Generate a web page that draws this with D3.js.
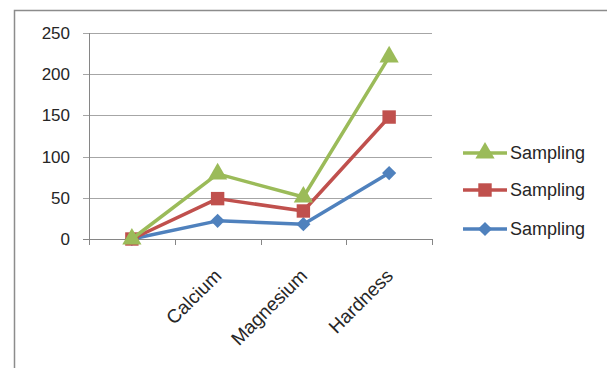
<!DOCTYPE html>
<html>
<head>
<meta charset="utf-8">
<script src="https://cdn.jsdelivr.net/npm/d3@7"></script>
<style>
  html, body { margin: 0; padding: 0; background: #fff; }
  svg { display: block; }
  text { font-family: "Liberation Sans", Arial, sans-serif; fill: #262626; }
</style>
</head>
<body>
<svg id="chart" width="607" height="368"></svg>
<script>
// Categories along the x axis (the first one carries no label)
const categories = ["", "Calcium", "Magnesium", "Hardness"];

// Series values, drawn bottom to top
const seriesBlue  = [0, 22, 18, 80];
const seriesRed   = [0, 49, 34, 148];
const seriesGreen = [0, 79, 51, 221];

const seriesNames = ["Sampling", "Sampling", "Sampling"];
const yTicks = [0, 50, 100, 150, 200, 250];

const series = [
  { name: seriesNames[2], values: seriesBlue,  color: "#4F81BD", symbol: "diamond" },
  { name: seriesNames[1], values: seriesRed,   color: "#C0504D", symbol: "square" },
  { name: seriesNames[0], values: seriesGreen, color: "#9BBB59", symbol: "triangle" }
];

const svg = d3.select("#chart");

// Outer chart frame
svg.append("rect")
  .attr("x", 14.5).attr("y", 10.5)
  .attr("width", 700).attr("height", 500)
  .attr("fill", "none").attr("stroke", "#8c8c8c").attr("stroke-width", 1.5);

const plot = { left: 89, right: 432, top: 33, bottom: 239 };

const x = d3.scaleBand().domain(categories.map((c, i) => i)).range([plot.left, plot.right]);
const y = d3.scaleLinear().domain([0, 250]).range([plot.bottom, plot.top]);

// Horizontal gridlines
svg.append("g").selectAll("line").data(yTicks).join("line")
  .attr("x1", plot.left - 6).attr("x2", plot.right)
  .attr("y1", d => Math.round(y(d)) + 0.5).attr("y2", d => Math.round(y(d)) + 0.5)
  .attr("stroke", d => d === 0 ? "#868686" : "#a6a6a6").attr("stroke-width", 1);

// Vertical value axis line
svg.append("line")
  .attr("x1", plot.left + 0.5).attr("x2", plot.left + 0.5)
  .attr("y1", plot.top).attr("y2", plot.bottom + 6)
  .attr("stroke", "#868686");

// Category tick marks at band boundaries
const bounds = categories.map((c, i) => x(i)).concat([plot.right]);
svg.append("g").selectAll("line").data(bounds.slice(1)).join("line")
  .attr("x1", d => Math.round(d) + 0.5).attr("x2", d => Math.round(d) + 0.5)
  .attr("y1", plot.bottom).attr("y2", plot.bottom + 6)
  .attr("stroke", "#868686");

// Y tick labels
svg.append("g").selectAll("text").data(yTicks).join("text")
  .attr("x", 70).attr("y", d => y(d) + 6)
  .attr("text-anchor", "end")
  .attr("font-size", 17)
  .text(d => d);

// X category labels, rotated
svg.append("g").selectAll("text").data(categories).join("text")
  .attr("transform", (d, i) => `translate(${x(i) + x.bandwidth() / 2 + 5},${plot.bottom + 38}) rotate(-45)`)
  .attr("text-anchor", "end")
  .attr("font-size", 19)
  .text(d => d);

// Marker shapes: a square turned on its corner serves as the diamond
const diamond = {
  draw(ctx, size) {
    const r = Math.sqrt(size / 2);
    ctx.moveTo(0, -r); ctx.lineTo(r, 0); ctx.lineTo(0, r); ctx.lineTo(-r, 0); ctx.closePath();
  }
};
const symbolTypes = { diamond: diamond, square: d3.symbolSquare, triangle: d3.symbolTriangle };
const symbolSizes = { diamond: 100, square: 180, triangle: 160 };

const line = d3.line()
  .x((d, i) => x(i) + x.bandwidth() / 2)
  .y(d => y(d));

series.forEach(s => {
  const g = svg.append("g");
  g.append("path")
    .attr("d", line(s.values))
    .attr("fill", "none")
    .attr("stroke", s.color)
    .attr("stroke-width", 3.5)
    .attr("stroke-linejoin", "round");
  g.selectAll("path.m").data(s.values).join("path")
    .attr("class", "m")
    .attr("transform", (d, i) => `translate(${x(i) + x.bandwidth() / 2},${y(d)})`)
    .attr("d", d3.symbol().type(symbolTypes[s.symbol]).size(symbolSizes[s.symbol]))
    .attr("fill", s.color);
});

// Legend (green on top, then red, then blue)
const legendRows = [series[2], series[1], series[0]];
const legendY = [153, 190, 229];
const lg = svg.append("g");
legendRows.forEach((s, i) => {
  const row = lg.append("g").attr("transform", `translate(463,${legendY[i]})`);
  row.append("line")
    .attr("x1", 0).attr("x2", 44).attr("y1", 0).attr("y2", 0)
    .attr("stroke", s.color).attr("stroke-width", 3.5);
  row.append("path")
    .attr("transform", "translate(22,0)")
    .attr("d", d3.symbol().type(symbolTypes[s.symbol]).size(symbolSizes[s.symbol]))
    .attr("fill", s.color);
  row.append("text")
    .attr("x", 47).attr("y", 6)
    .attr("font-size", 18)
    .text(s.name);
});
</script>
</body>
</html>
